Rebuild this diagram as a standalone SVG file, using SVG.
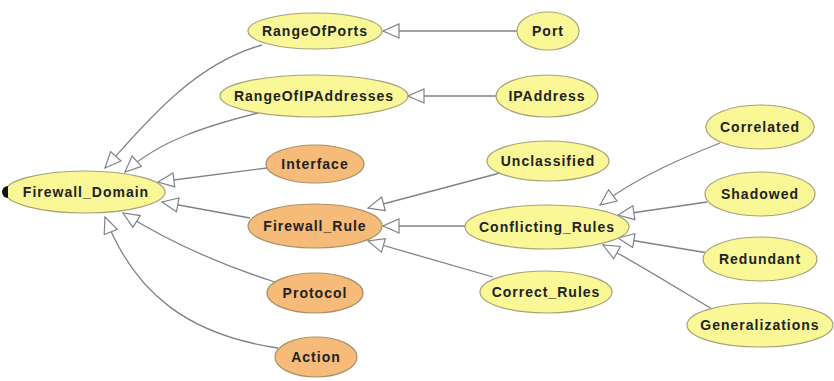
<svg xmlns="http://www.w3.org/2000/svg" width="834" height="381" viewBox="0 0 834 381">
  <style>
    .edge { fill: none; stroke: #7d838c; stroke-width: 1.3; marker-end: url(#tri); }
    .yel { fill: #f9f796; stroke: #a8a27a; stroke-width: 1.2; }
    .org { fill: #f6bb78; stroke: #a8906a; stroke-width: 1.2; }
    text { font-family: "Liberation Sans", Arial, sans-serif; font-size: 14px; font-weight: bold; fill: #222; letter-spacing: 1px; text-anchor: middle; dominant-baseline: central; }
  </style>
  <defs>
    <marker id="tri" viewBox="0 0 18 16" refX="17" refY="8" markerWidth="18" markerHeight="16" markerUnits="userSpaceOnUse" orient="auto">
      <path d="M1,1 L17,8 L1,15 Z" fill="#ffffff" stroke="#7d838c" stroke-width="1.2"/>
    </marker>
  </defs>
  <rect width="834" height="381" fill="#ffffff"/>

  <g id="connectors">
    <path class="edge" d="M262,45 C190,65 140,130 105,168"/>
    <path class="edge" d="M258,113 C210,125 160,140 125,172"/>
    <path class="edge" d="M267,168 L158,182"/>
    <path class="edge" d="M250,218 L162,202"/>
    <path class="edge" d="M275,282 Q190,255 123,213"/>
    <path class="edge" d="M278,348 C190,335 135,295 105,217"/>
    <path class="edge" d="M517,31 L383,31"/>
    <path class="edge" d="M496,96 L408,96"/>
    <path class="edge" d="M500,173 L368,208"/>
    <path class="edge" d="M465,226 L383,226"/>
    <path class="edge" d="M493,277 L368,241"/>
    <path class="edge" d="M720,143 C690,155 640,175 600,205"/>
    <path class="edge" d="M707,202 L618,215"/>
    <path class="edge" d="M708,253 L618,238"/>
    <path class="edge" d="M722,315 C680,290 640,265 603,245"/>
  </g>

  <g id="Firewall_Domain">
    <ellipse class="yel" cx="85" cy="192" rx="80" ry="21"/>
    <path d="M8,186 A6,6 0 0 0 8,198 Z" fill="#111"/>
    <text x="86" y="192">Firewall_Domain</text>
  </g>
  <g id="RangeOfPorts">
    <ellipse class="yel" cx="315" cy="31" rx="67" ry="18"/>
    <text x="315" y="31">RangeOfPorts</text>
  </g>
  <g id="Port">
    <ellipse class="yel" cx="548" cy="31" rx="31" ry="19"/>
    <text x="548" y="31">Port</text>
  </g>
  <g id="RangeOfIPAddresses">
    <ellipse class="yel" cx="314" cy="96" rx="94" ry="21"/>
    <text x="314" y="96">RangeOfIPAddresses</text>
  </g>
  <g id="IPAddress">
    <ellipse class="yel" cx="547" cy="96" rx="51" ry="21"/>
    <text x="547" y="96">IPAddress</text>
  </g>
  <g id="Interface">
    <ellipse class="org" cx="315" cy="164" rx="49" ry="19"/>
    <text x="315" y="164">Interface</text>
  </g>
  <g id="Firewall_Rule">
    <ellipse class="org" cx="315" cy="226" rx="67" ry="22"/>
    <text x="315" y="226">Firewall_Rule</text>
  </g>
  <g id="Protocol">
    <ellipse class="org" cx="315" cy="293" rx="48" ry="20"/>
    <text x="315" y="293">Protocol</text>
  </g>
  <g id="Action">
    <ellipse class="org" cx="316" cy="357" rx="41" ry="20"/>
    <text x="316" y="357">Action</text>
  </g>
  <g id="Unclassified">
    <ellipse class="yel" cx="548" cy="161" rx="61" ry="20"/>
    <text x="548" y="161">Unclassified</text>
  </g>
  <g id="Conflicting_Rules">
    <ellipse class="yel" cx="547" cy="227" rx="82" ry="22"/>
    <text x="547" y="227">Conflicting_Rules</text>
  </g>
  <g id="Correct_Rules">
    <ellipse class="yel" cx="546" cy="292" rx="66" ry="21"/>
    <text x="546" y="292">Correct_Rules</text>
  </g>
  <g id="Correlated">
    <ellipse class="yel" cx="760" cy="127" rx="54" ry="22"/>
    <text x="760" y="127">Correlated</text>
  </g>
  <g id="Shadowed">
    <ellipse class="yel" cx="760" cy="194" rx="55" ry="22"/>
    <text x="760" y="194">Shadowed</text>
  </g>
  <g id="Redundant">
    <ellipse class="yel" cx="760" cy="259" rx="57" ry="22"/>
    <text x="760" y="259">Redundant</text>
  </g>
  <g id="Generalizations">
    <ellipse class="yel" cx="760" cy="325" rx="73" ry="22"/>
    <text x="760" y="325">Generalizations</text>
  </g>
</svg>
